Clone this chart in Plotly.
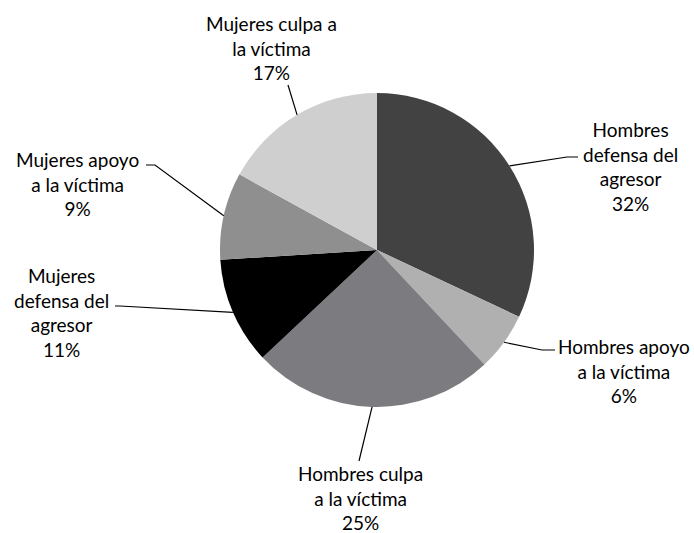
import math
import plotly.graph_objects as go

# Data
labels = ["Hombres defensa del agresor", "Hombres apoyo a la víctima", "Hombres culpa a la víctima",
          "Mujeres defensa del agresor", "Mujeres apoyo a la víctima", "Mujeres culpa a la víctima"]
values = [32, 6, 25, 11, 9, 17]
label_text = ["Hombres<br>defensa del<br>agresor<br>32%",
              "Hombres apoyo<br>a la víctima<br>6%",
              "Hombres culpa<br>a la víctima<br>25%",
              "Mujeres<br>defensa del<br>agresor<br>11%",
              "Mujeres apoyo<br>a la víctima<br>9%",
              "Mujeres culpa a<br>la víctima<br>17%"]
colors = ["#424242", "#b0b0b0", "#7c7c80", "#000000", "#8f8f8f", "#cfcfcf"]

W, H = 694, 533
# pie box in pixels (layout)
PX0, PX1, PY0, PY1 = 220, 534, 93, 407
cx, cy = (PX0 + PX1) / 2, (PY0 + PY1) / 2
R = (PX1 - PX0) / 2

# label centers (pixels) and leader line kink/end points (layout)
label_pos = [(630, 167), (624, 371), (360, 498), (61, 312), (77, 184), (271, 48)]
leader_pts = [[(567, 157), (578, 157)],
              [(542, 350), (555, 350)],
              [(359, 461)],
              [(120, 306), (115, 306)],
              [(155, 165), (146, 165)],
              [(288, 85)]]

def px(x):
    return x / W

def py(y):
    return 1 - y / H

fig = go.Figure(go.Pie(
    labels=labels, values=values, sort=False, direction="clockwise", rotation=0,
    marker=dict(colors=colors, line=dict(width=0)),
    textinfo="none", hoverinfo="label+percent",
    domain=dict(x=[px(PX0), px(PX1)], y=[py(PY1), py(PY0)]),
    showlegend=False,
))

total = sum(values)
cum = 0
shapes = []
annotations = []
for i, v in enumerate(values):
    mid = (cum + v / 2) / total
    cum += v
    ang = 2 * math.pi * mid
    sx = cx + R * math.sin(ang)
    sy = cy - R * math.cos(ang)
    pts = [(sx, sy)] + leader_pts[i]
    path = "M " + " L ".join(f"{px(x)},{py(y)}" for x, y in pts)
    shapes.append(dict(type="path", path=path, xref="paper", yref="paper",
                       line=dict(color="black", width=1.2)))
    lx, ly = label_pos[i]
    annotations.append(dict(x=px(lx), y=py(ly), xref="paper", yref="paper",
                            text=label_text[i], showarrow=False, align="center",
                            xanchor="center", yanchor="middle",
                            font=dict(family="Lato", size=19, color="#000000")))

fig.update_layout(
    width=W, height=H, margin=dict(l=0, r=0, t=0, b=0),
    paper_bgcolor="white", plot_bgcolor="white",
    shapes=shapes, annotations=annotations,
)

fig.write_html("out.html", config={"displayModeBar": False},
               post_script="document.body.style.margin='0';document.body.style.overflow='hidden';")
